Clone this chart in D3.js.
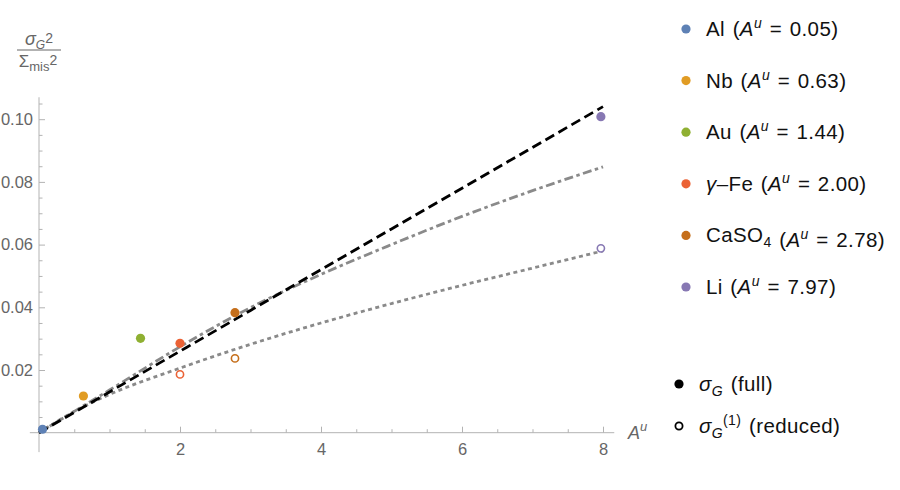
<!DOCTYPE html>
<html>
<head>
<meta charset="utf-8">
<script src="https://cdn.jsdelivr.net/npm/d3@7"></script>
<style>
  body { margin: 0; background: #fff; }
  svg { font-family: "Liberation Sans", Arial, sans-serif; }
</style>
</head>
<body>
<svg id="chart"></svg>
<script>
  // materials and their A^u values
  var materials = ["Al", "Nb", "Au", "γ–Fe", "CaSO4", "Li"];
  var aU = [0.05, 0.63, 1.44, 2.00, 2.78, 7.97];
  var sigmaFull = [0.0011, 0.0117, 0.0301, 0.0285, 0.0383, 0.1008];
  var sigmaReduced = [null, null, null, 0.0186, 0.0237, 0.0588];
  var colors = ["#5e81b5", "#e19c24", "#8fb032", "#eb6235", "#c56e1a", "#8778b3"];

  var fitX = [0, 0.5, 1, 2, 3, 4, 5, 6, 7, 8];
  var linearFit = [0, 0.0065, 0.013, 0.026, 0.039, 0.052, 0.065, 0.078, 0.091, 0.104];
  var fullFit = [0, 0.0068, 0.0136, 0.0274, 0.0399, 0.0505, 0.0600, 0.0690, 0.0772, 0.0848];
  var reducedFit = [0, 0.0068, 0.0122, 0.0206, 0.0282, 0.0350, 0.0412, 0.0470, 0.0525, 0.0580];

  var xMajor = [2, 4, 6, 8];
  var yMajor = [0.02, 0.04, 0.06, 0.08, 0.10];

  var svg = d3.select("#chart").attr("width", 900).attr("height", 490);

  var x = d3.scaleLinear().domain([0, 8]).range([39, 603]);
  var y = d3.scaleLinear().domain([0, 0.1]).range([432.7, 119.2]);

  var axisColor = "#b3b3b3", labelColor = "#666";

  // axis lines (extend a bit past the range like the original)
  svg.append("line")
    .attr("x1", x(-0.13)).attr("x2", x(8.16))
    .attr("y1", y(0)).attr("y2", y(0))
    .attr("stroke", axisColor);
  svg.append("line")
    .attr("x1", x(0)).attr("x2", x(0))
    .attr("y1", y(-0.0062)).attr("y2", y(0.107))
    .attr("stroke", axisColor);

  // x ticks
  var xMinor = d3.range(0.5, 8, 0.5).filter(function(d) { return xMajor.indexOf(d) < 0; });
  var gx = svg.append("g").attr("transform", "translate(0," + y(0) + ")");
  gx.call(d3.axisBottom(x).tickValues(xMajor).tickSizeInner(-6).tickSizeOuter(0).tickPadding(11)
    .tickFormat(d3.format("d")));
  var gxm = svg.append("g").attr("transform", "translate(0," + y(0) + ")");
  gxm.call(d3.axisBottom(x).tickValues(xMinor).tickSizeInner(-3.5).tickSizeOuter(0).tickFormat(""));

  // y ticks
  var yMinor = d3.range(1, 22).map(function(i) { return i * 0.005; })
    .filter(function(d) { return Math.abs(d * 50 - Math.round(d * 50)) > 1e-6; });
  var gy = svg.append("g").attr("transform", "translate(" + x(0) + ",0)");
  gy.call(d3.axisLeft(y).tickValues(yMajor).tickSizeInner(-6).tickSizeOuter(0).tickPadding(6)
    .tickFormat(d3.format(".2f")));
  var gym = svg.append("g").attr("transform", "translate(" + x(0) + ",0)");
  gym.call(d3.axisLeft(y).tickValues(yMinor).tickSizeInner(-3.5).tickSizeOuter(0).tickFormat(""));

  svg.selectAll(".domain").remove();
  svg.selectAll(".tick line").attr("stroke", axisColor);
  svg.selectAll(".tick text").attr("fill", labelColor)
    .style("font-size", "16.5px").style("font-family", "'Liberation Sans', Arial, sans-serif");

  // fit lines
  var line = d3.line()
    .x(function(d) { return x(d[0]); })
    .y(function(d) { return y(d[1]); })
    .curve(d3.curveMonotoneX);

  var fits = [
    { vals: reducedFit, color: "#8a8a8a", dash: "4,3.5" },
    { vals: fullFit, color: "#8a8a8a", dash: "9,3.5,3.5,3.5" },
    { vals: linearFit, color: "#000", dash: "10,5" }
  ];
  fits.forEach(function(f) {
    svg.append("path")
      .datum(d3.zip(fitX, f.vals))
      .attr("d", line)
      .attr("fill", "none")
      .attr("stroke", f.color)
      .attr("stroke-width", 2.8)
      .attr("stroke-dasharray", f.dash);
  });

  // points
  var idx = d3.range(materials.length);
  svg.selectAll("circle.open")
    .data(idx.filter(function(i) { return sigmaReduced[i] != null; }))
    .enter().append("circle")
    .attr("class", "open")
    .attr("cx", function(i) { return x(aU[i]); })
    .attr("cy", function(i) { return y(sigmaReduced[i]); })
    .attr("r", 3.6)
    .attr("fill", "#fff")
    .attr("stroke", function(i) { return colors[i]; })
    .attr("stroke-width", 1.6);

  svg.selectAll("circle.full")
    .data(idx)
    .enter().append("circle")
    .attr("class", "full")
    .attr("cx", function(i) { return x(aU[i]); })
    .attr("cy", function(i) { return y(sigmaFull[i]); })
    .attr("r", 4.6)
    .attr("fill", function(i) { return colors[i]; });

  // x axis label A^u
  var xl = svg.append("text").attr("x", 628).attr("y", 439)
    .attr("fill", labelColor).style("font-size", "18px");
  xl.append("tspan").style("font-style", "italic").text("A");
  xl.append("tspan").style("font-style", "italic").style("font-size", "13px").attr("dy", -8).text("u");

  // y axis label: fraction
  var num = svg.append("text").attr("x", 39).attr("y", 45).attr("text-anchor", "middle")
    .attr("fill", labelColor).style("font-size", "18px");
  num.append("tspan").style("font-style", "italic").text("σ");
  num.append("tspan").style("font-style", "italic").style("font-size", "12px").attr("dy", 4).text("G");
  num.append("tspan").style("font-size", "14px").attr("dy", -6).text("2");
  svg.append("line").attr("x1", 17).attr("x2", 61).attr("y1", 50).attr("y2", 50)
    .attr("stroke", labelColor).attr("stroke-width", 1);
  var den = svg.append("text").attr("x", 38).attr("y", 67).attr("text-anchor", "middle")
    .attr("fill", labelColor).style("font-size", "17px");
  den.append("tspan").text("Σ");
  den.append("tspan").style("font-size", "13px").attr("dy", 4).text("mis");
  den.append("tspan").style("font-size", "14px").attr("dy", -6).text("2");

  // legend
  var legStyle = function(t) {
    t.attr("fill", "#111").style("font-size", "20.5px")
      .style("letter-spacing", "0.4px").style("word-spacing", "1.5px");
  };
  var legY = d3.range(materials.length).map(function(i) { return 29 + i * 51.6; });
  idx.forEach(function(i) {
    var g = svg.append("g").attr("transform", "translate(0," + legY[i] + ")");
    g.append("circle").attr("cx", 686).attr("cy", 0).attr("r", 4.6).attr("fill", colors[i]);
    var t = g.append("text").attr("x", 706).attr("y", 7).call(legStyle);
    var name = materials[i];
    if (name === "γ–Fe") {
      t.append("tspan").style("font-style", "italic").text("γ");
      t.append("tspan").text("–Fe");
    } else if (name === "CaSO4") {
      t.append("tspan").text("CaSO");
      t.append("tspan").style("font-size", "14px").attr("dy", 5).text("4");
      t.append("tspan").attr("dy", -5).text("");
    } else {
      t.append("tspan").text(name);
    }
    t.append("tspan").text(" (");
    t.append("tspan").style("font-style", "italic").text("A");
    t.append("tspan").style("font-style", "italic").style("font-size", "14px").attr("dy", -8).text("u");
    t.append("tspan").attr("dy", 8).text(" = " + aU[i].toFixed(2) + ")");
  });

  // legend for full / reduced
  var g1 = svg.append("g").attr("transform", "translate(0,384)");
  g1.append("circle").attr("cx", 679).attr("cy", 0).attr("r", 4.6).attr("fill", "#000");
  var t1 = g1.append("text").attr("x", 699).attr("y", 7).call(legStyle);
  t1.append("tspan").style("font-style", "italic").text("σ");
  t1.append("tspan").style("font-style", "italic").style("font-size", "14px").attr("dy", 5).text("G");
  t1.append("tspan").attr("dy", -5).text(" (full)");

  var g2 = svg.append("g").attr("transform", "translate(0,426)");
  g2.append("circle").attr("cx", 679).attr("cy", 0).attr("r", 3.6).attr("fill", "#fff")
    .attr("stroke", "#000").attr("stroke-width", 1.8);
  var t2 = g2.append("text").attr("x", 699).attr("y", 7).call(legStyle);
  t2.append("tspan").style("font-style", "italic").text("σ");
  t2.append("tspan").style("font-style", "italic").style("font-size", "14px").attr("dy", 5).text("G");
  t2.append("tspan").style("font-size", "14px").attr("dy", -13).text("(1)");
  t2.append("tspan").attr("dy", 8).text(" (reduced)");
</script>
</body>
</html>
